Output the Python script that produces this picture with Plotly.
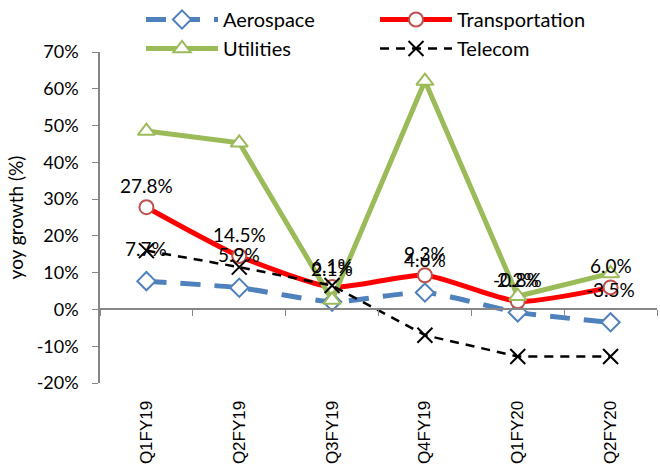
import plotly.graph_objects as go

quarters = ["Q1FY19", "Q2FY19", "Q3FY19", "Q4FY19", "Q1FY20", "Q2FY20"]
aerospace = [7.7, 5.9, 2.1, 4.6, -0.8, -3.5]
transportation = [27.8, 14.5, 6.1, 9.3, 2.2, 6.0]
utilities = [48.5, 45.3, 2.6, 62.1, 3.6, 9.8]
telecom = [16.0, 11.5, 6.5, -7.0, -12.8, -12.8]
y_ticks = [-20, -10, 0, 10, 20, 30, 40, 50, 60, 70]

LABEL_FONT = "Lato"
fig = go.Figure()

fig.add_trace(go.Scatter(
    x=quarters, y=aerospace, name="Aerospace", mode="lines+markers",
    line=dict(color="#4F81BD", width=5, dash="20px,14px", shape="spline", smoothing=0.6),
    marker=dict(symbol="diamond", size=14, color="white", line=dict(color="#4F81BD", width=2)),
))
fig.add_trace(go.Scatter(
    x=quarters, y=transportation, name="Transportation", mode="lines+markers",
    line=dict(color="#FF0000", width=5, shape="spline", smoothing=0.6),
    marker=dict(symbol="circle", size=14, color="white", line=dict(color="#C0504D", width=2)),
))
fig.add_trace(go.Scatter(
    x=quarters, y=utilities, name="Utilities", mode="lines+markers",
    line=dict(color="#9BBB59", width=5),
    marker=dict(symbol="triangle-up", size=15, color="white", line=dict(color="#9BBB59", width=2)),
))
fig.add_trace(go.Scatter(
    x=quarters, y=telecom, name="Telecom", mode="lines+markers",
    line=dict(color="black", width=2.5, dash="9px,7px"),
    marker=dict(symbol="x-thin", size=15, color="black", line=dict(color="black", width=2)),
))

# invisible trace for the zero-crossing category axis
fig.add_trace(go.Scatter(x=quarters, y=[0] * len(quarters), xaxis="x2", mode="none",
                         showlegend=False, hoverinfo="skip"))

for vals, shift in ((aerospace, 33), (transportation, 22)):
    for q, v in zip(quarters, vals):
        fig.add_annotation(x=q, y=v, text=f"{v:.1f}%", showarrow=False, yshift=shift,
                           font=dict(family=LABEL_FONT, size=19, color="black"))

fig.update_layout(
    width=660, height=466,
    margin=dict(l=100, r=3, t=52, b=83, autoexpand=False),
    paper_bgcolor="white", plot_bgcolor="white",
    showlegend=True,
    legend=dict(orientation="h", xref="container", yref="container", x=141 / 660, y=1.0,
                xanchor="left", yanchor="top", entrywidth=147, entrywidthmode="pixels",
                itemwidth=72, font=dict(family=LABEL_FONT, size=20, color="black"),
                bgcolor="rgba(0,0,0,0)", tracegroupgap=0),
    xaxis=dict(type="category", categoryarray=quarters, range=[-0.5, 5.5],
               showline=False, showgrid=False, zeroline=False,
               ticks="outside", ticklen=10, tickcolor="rgba(0,0,0,0)", tickangle=-90,
               tickfont=dict(family="Liberation Sans", size=17, color="black")),
    xaxis2=dict(type="category", categoryarray=quarters, range=[-0.5, 5.5], overlaying="x",
                anchor="free", position=20 / 90, showline=True, linecolor="#868686", linewidth=1.5,
                ticks="outside", tickson="boundaries", ticklen=6, tickcolor="#868686",
                showticklabels=False, showgrid=False, zeroline=False),
    yaxis=dict(range=[-20, 70], tickvals=y_ticks, ticktext=[f"{t}%" for t in y_ticks],
               showline=True, linecolor="#868686", linewidth=1.5, ticks="outside", ticklen=6,
               tickcolor="#868686", showgrid=False, zeroline=False, ticklabelstandoff=10,
               tickfont=dict(family=LABEL_FONT, size=18, color="black"),
               title=dict(text="yoy growth (%)", standoff=8,
                          font=dict(family=LABEL_FONT, size=19, color="black"))),
)

fig.write_html("out.html")
